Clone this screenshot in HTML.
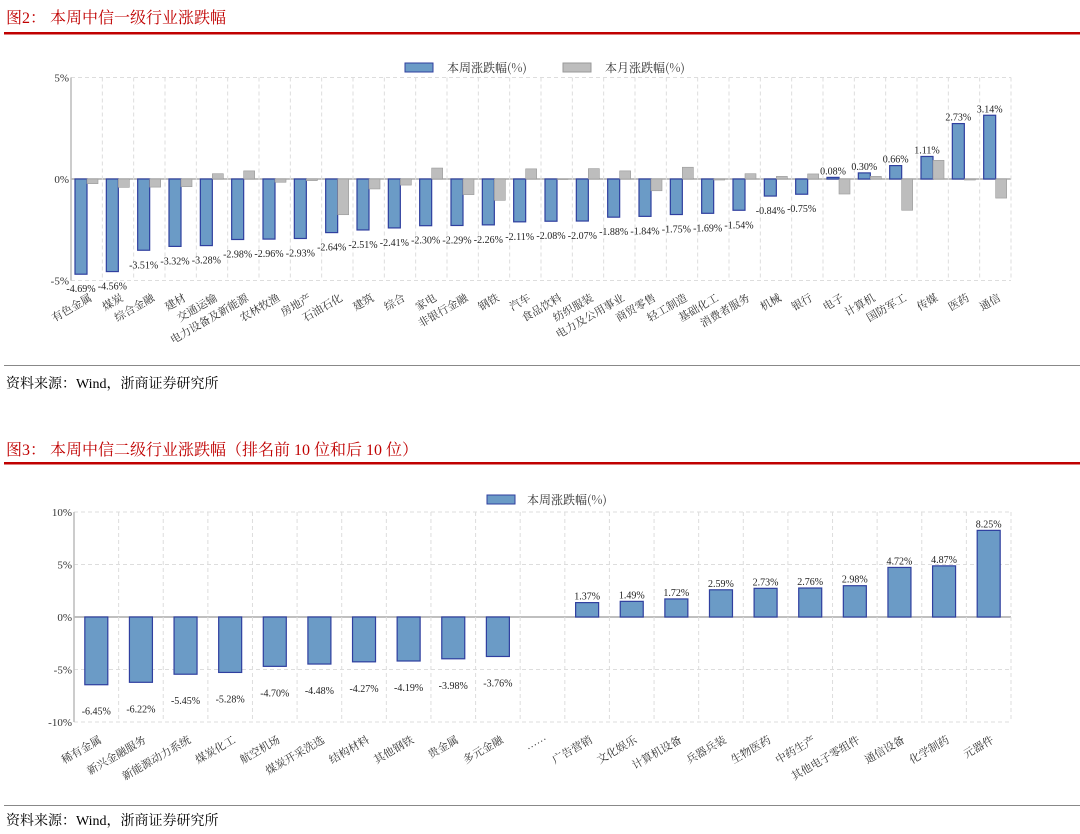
<!DOCTYPE html>
<html><head><meta charset="utf-8"><style>
body{margin:0;background:#fff;width:1080px;height:834px;overflow:hidden;font-family:"Liberation Serif","Noto Serif CJK SC",serif;}
svg{position:absolute;left:0;top:0}
</style></head><body>
<svg id="s" width="1080" height="834">
<text x="6" y="23" font-size="16" fill="#c00000" font-family="Liberation Serif, Noto Serif CJK SC, serif">图2： 本周中信一级行业涨跌幅</text>
<rect x="4" y="32" width="1076" height="2.5" fill="#c00000"/>
<rect x="4" y="365" width="1076" height="1" fill="#888"/>
<text x="6" y="388" font-size="14" fill="#000">资料来源：Wind，浙商证券研究所</text>
<text x="6" y="455" font-size="16" fill="#c00000">图3： 本周中信二级行业涨跌幅（排名前 10 位和后 10 位）</text>
<rect x="4" y="462" width="1076" height="2.5" fill="#c00000"/>
<rect x="4" y="805" width="1076" height="1" fill="#888"/>
<text x="6" y="825" font-size="14" fill="#000">资料来源：Wind，浙商证券研究所</text>
<g id="c1"></g>
<g id="c2"></g>
</svg>
<script>
const cats1=["有色金属","煤炭","综合金融","建材","交通运输","电力设备及新能源","农林牧渔","房地产","石油石化","建筑","综合","家电","非银行金融","钢铁","汽车","食品饮料","纺织服装","电力及公用事业","商贸零售","轻工制造","基础化工","消费者服务","机械","银行","电子","计算机","国防军工","传媒","医药","通信"];
const week1=[-4.69,-4.56,-3.51,-3.32,-3.28,-2.98,-2.96,-2.93,-2.64,-2.51,-2.41,-2.30,-2.29,-2.26,-2.11,-2.08,-2.07,-1.88,-1.84,-1.75,-1.69,-1.54,-0.84,-0.75,0.08,0.30,0.66,1.11,2.73,3.14];
const month1=[-0.23,-0.41,-0.40,-0.38,0.26,0.40,-0.16,-0.08,-1.76,-0.49,-0.30,0.54,-0.77,-1.05,0.50,-0.02,0.51,0.40,-0.58,0.58,-0.05,0.26,0.13,0.25,-0.74,0.13,-1.54,0.92,-0.05,-0.94];
const ticks1=["5%","0%","-5%"];const tickVals1=[5,0,-5];
const cats2=["稀有金属","新兴金融服务","新能源动力系统","煤炭化工","航空机场","煤炭开采洗选","结构材料","其他钢铁","贵金属","多元金融","……","广告营销","文化娱乐","计算机设备","兵器兵装","生物医药","中药生产","其他电子零组件","通信设备","化学制药","元器件"];
const week2=[-6.45,-6.22,-5.45,-5.28,-4.70,-4.48,-4.27,-4.19,-3.98,-3.76,null,1.37,1.49,1.72,2.59,2.73,2.76,2.98,4.72,4.87,8.25];
const ticks2=["10%","5%","0%","-5%","-10%"];const tickVals2=[10,5,0,-5,-10];
const NS="http://www.w3.org/2000/svg";
function mk(p,t,a){const e=document.createElementNS(NS,t);for(const k in a)e.setAttribute(k,a[k]);p.appendChild(e);return e;}
function fmt(v){return v.toFixed(2)+"%";}
function draw(g,o){
 const y=v=>o.y0-v*o.ppu;const n=o.cats.length;const cw=(o.x1-o.x0)/n;
 // grid
 o.tickVals.forEach((tv,i)=>{
  const l=mk(g,'line',{x1:o.x0,x2:o.x1,y1:y(tv),y2:y(tv),stroke:tv===0?'#aaa':'#ddd','stroke-dasharray':tv===0?'':'4,3','stroke-width':tv===0?1.5:1});
  
  
  const t=mk(g,'text',{x:o.x0-2,y:y(tv)+4,'font-size':11,'text-anchor':'end',fill:'#333'});t.textContent=o.ticks[i];
  
  
 });
 for(let k=1;k<=n;k++){const l=mk(g,'line',{x1:o.x0+k*cw,x2:o.x0+k*cw,y1:y(o.tickVals[0]),y2:y(o.tickVals[o.tickVals.length-1]),stroke:'#ddd','stroke-dasharray':'4,3'});
  
  }
 const ax=mk(g,'line',{x1:o.x0,x2:o.x0,y1:y(o.tickVals[0]),y2:y(o.tickVals[o.tickVals.length-1]),stroke:'#bbb','stroke-width':1.5});
 
 
 o.cats.forEach((c,i)=>{
  const cx=o.x0+cw*i+cw/2;
  const v=o.week[i];
  if(v!==null){
   const bx=o.month?o.x0+cw*i+4:cx-o.bw/2;
   const r=mk(g,'rect',{x:bx,y:Math.min(y(v),y(0)),width:o.bw,height:Math.abs(y(v)-y(0)),fill:'#6b9bc6',stroke:'#2f3f9f','stroke-width':1.2});
   
   
   const lt=mk(g,'text',{x:bx+o.bw/2,y:v>=0?y(v)-3:y(v)+o.lblOff,'font-size':10,'text-anchor':'middle',fill:'#222'});lt.textContent=fmt(v);
   
   
   if(o.month){const m=o.month[i];const r2=mk(g,'rect',{x:bx+o.bw,y:Math.min(y(m),y(0)),width:o.bw-1,height:Math.abs(y(m)-y(0)),fill:'#bdbdbd',stroke:'#999','stroke-width':0.6});
    
    }
  }
  const tx=cx+6,ty=o.labY;
  const t=mk(g,'text',{x:tx,y:ty,'font-size':11,'text-anchor':'end',fill:'#333',transform:`rotate(-30 ${tx} ${ty})`,'font-family':'Noto Serif CJK SC, serif'});t.textContent=c;
  
  
 });
}
const g1=document.getElementById('c1'),g2=document.getElementById('c2');
draw(g1,{cats:cats1,week:week1,month:month1,ticks:ticks1,tickVals:tickVals1,x0:71,x1:1011,y0:179,ppu:20.3,bw:12,labY:300,lblOff:18});
draw(g2,{cats:cats2,week:week2,ticks:ticks2,tickVals:tickVals2,x0:74,x1:1011,y0:617,ppu:10.5,bw:23,labY:742,lblOff:30});
// legends
function leg(g,x,fill,stroke,label){const r=mk(g,'rect',{x:x,y:63,width:28,height:9,fill:fill,stroke:stroke});
 
 
 const t=mk(g,'text',{x:x+42,y:72,'font-size':12,fill:'#333','font-family':'Noto Serif CJK SC, serif'});t.textContent=label;
 
 return [r,t];}
leg(g1,405,'#6b9bc6','#2f3f9f','本周涨跌幅(%)');
leg(g1,563,'#bdbdbd','#999','本月涨跌幅(%)');
const [r2,t2]=leg(g2,487,'#6b9bc6','#2f3f9f','本周涨跌幅(%)');
r2.setAttribute('y',495);t2.setAttribute('y',504);t2.setAttribute('x',527);
</script>
</body></html>
